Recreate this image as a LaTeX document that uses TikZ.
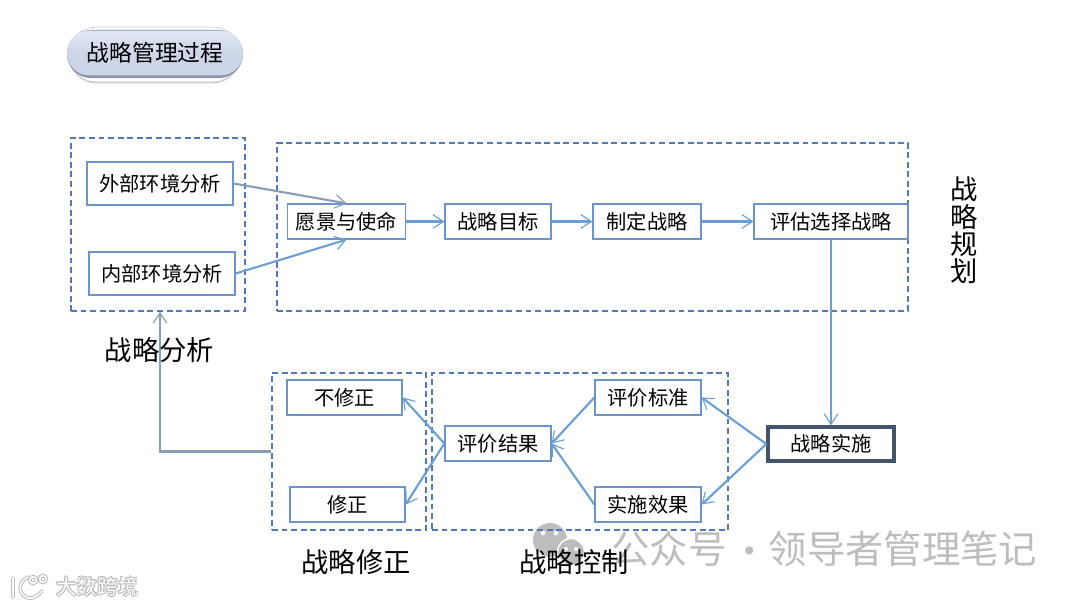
\documentclass[tikz,border=0pt]{standalone}
\usepackage{fontspec}
\usepackage{contour}
\setmainfont{Noto Sans CJK SC}
\usetikzlibrary{arrows.meta,shapes.misc,shadows}
\contourlength{.5pt}
\definecolor{boxline}{HTML}{6C93CC}
\definecolor{frameline}{HTML}{5078BA}
\definecolor{arrowblue}{HTML}{6A9FD6}
\definecolor{arrowgrey}{HTML}{8A9DB8}
\definecolor{darkslate}{HTML}{44546A}
\definecolor{markgrey}{HTML}{BDBDBD}
\definecolor{pillface}{HTML}{CDD6E8}
\definecolor{pilltop}{HTML}{E0E7F5}
\definecolor{pilledge}{HTML}{8A93A8}
\tikzset{
    >={Straight Barb[length=2.6mm,width=3.4mm,line width=.8pt]},
    stepbox/.style={draw=boxline, line width=.9pt, fill=white, inner sep=0pt,
                    font=\fontsize{14.4pt}{17pt}\selectfont, text=black},
    framebox/.style={draw=frameline, dash pattern=on 4.2pt off 2.6pt,
                     line width=1.1pt, inner sep=0pt},
    grouptitle/.style={font=\fontsize{19.4pt}{19.4pt}\selectfont, text=black, inner sep=0pt},
    flow/.style={->, draw=arrowblue, line width=1.5pt},
    back/.style={->, draw=arrowgrey, line width=1.5pt},
    markword/.style={text=markgrey, inner sep=0pt, font=\fontsize{27.3pt}{28pt}\selectfont}
}
\begin{document}
\begin{tikzpicture}[x=0.025cm, y=-0.025cm]
    \useasboundingbox (0,0) rectangle (1080,607);

    % watermarks
    \fill[markgrey] (550,540) circle (17);
    \fill[white] (543,533) circle (2.4) (556,533) circle (2.4);
    \draw[fill=markgrey, draw=white, line width=1pt] (571,552) circle (13.5);
    \fill[white] (566,549) circle (2) (576,549) circle (2);
    \node[markword] (mark1) at (669,549) {公众号};
    \node[markword] (mark2) at (750,556) {·};
    \node[markword] (mark3) at (903,549) {领导者管理笔记};
    \node[inner sep=0pt, text=white, font=\fontsize{14.6pt}{16pt}\selectfont] (mark4) at (97.5,587) {\contour{markgrey}{大数跨境}};
    \foreach \c/\w in {markgrey/2.6pt, white/1.1pt} {
            \draw[\c, line width=\w, line cap=round] (13,578) -- (13,597)
                (28,577) .. controls (18,582) and (17,594) .. (28,598) .. controls (33,599) and (38,596) .. (42,591)
                (33,580) circle (3.4) (43,579) circle (3.4);
        }

    % dashed groups
    \node[framebox, minimum width=4.35cm,  minimum height=4.325cm] (anaframe)  at (158,224.5) {};
    \node[framebox, minimum width=15.775cm, minimum height=4.2cm]  (planframe) at (592.5,227) {};
    \node[framebox, minimum width=3.85cm,  minimum height=3.925cm] (fixframe)  at (349,451.5) {};
    \node[framebox, minimum width=7.4cm,   minimum height=3.925cm] (ctrlframe) at (580,451.5) {};

    % title pill
    \node[rounded rectangle, draw=black!18, line width=.5pt, fill=white, minimum width=4.52cm, minimum height=1.37cm,
          drop shadow={shadow xshift=0pt, shadow yshift=-1pt, opacity=.4}] (pillback) at (154.5,54.5) {};
    \node[rounded rectangle, fill=pilledge, inner sep=0pt, minimum width=4.4cm, minimum height=1.2cm] (pilledge) at (155,54) {};
    \node[rounded rectangle, inner sep=0pt, minimum width=4.4cm, minimum height=1.12cm,
          top color=pilltop, bottom color=pillface, middle color=pillface,
          font=\fontsize{16.2pt}{18pt}\selectfont, text=black] (title) at (155,53) {战略管理过程};

    % steps
    \node[stepbox, minimum width=3.65cm, minimum height=1.075cm] (outer)  at (160,183.5) {外部环境分析};
    \node[stepbox, minimum width=3.65cm, minimum height=1.075cm] (inner)  at (162,273.5) {内部环境分析};
    \node[stepbox, minimum width=2.96cm, minimum height=.875cm]  (vision) at (346.5,221.5) {愿景与使命};
    \node[stepbox, minimum width=2.65cm, minimum height=.875cm]  (target) at (498,221.5) {战略目标};
    \node[stepbox, minimum width=2.7cm,  minimum height=.875cm]  (make)   at (647,221.5) {制定战略};
    \node[stepbox, minimum width=3.85cm, minimum height=.875cm]  (choose) at (831,221.5) {评估选择战略};
    \node[stepbox, draw=darkslate, line width=2.4pt, minimum width=3.15cm, minimum height=.85cm] (act) at (831,444) {战略实施};
    \node[stepbox, minimum width=2.65cm, minimum height=.875cm]  (norm)   at (648,397.5) {评价标准};
    \node[stepbox, minimum width=2.65cm, minimum height=.875cm]  (effect) at (648,504.5) {实施效果};
    \node[stepbox, minimum width=2.65cm, minimum height=.875cm]  (result) at (498,443.5) {评价结果};
    \node[stepbox, minimum width=2.875cm, minimum height=.875cm] (nofix)  at (344.5,397.5) {不修正};
    \node[stepbox, minimum width=2.875cm, minimum height=.875cm] (dofix)  at (347.5,504.5) {修正};

    % connectors
    \foreach \i/\j in {vision/target, target/make, make/choose, choose/act,
            act.west/norm.east, act.west/effect.east, norm.west/result.east,
            effect.west/result.east, result.west/nofix.east, result.west/dofix.east} {
            \draw[flow] (\i) -- (\j);
        }
    \draw[back] (outer.east) -- (vision.north);
    \draw[flow] (inner.east) -- (vision.south);
    \draw[back] (fixframe.west) -| ([xshift=.05cm]anaframe.south);

    % group titles
    \node[grouptitle] (anatitle)  at (159.5,350) {战略分析};
    \node[grouptitle, align=center] (plantitle) at (964,230.5) {战\\略\\规\\划};
    \node[grouptitle] (fixtitle)  at (356,562) {战略修正};
    \node[grouptitle] (ctrltitle) at (574,562) {战略控制};
\end{tikzpicture}
\end{document}
